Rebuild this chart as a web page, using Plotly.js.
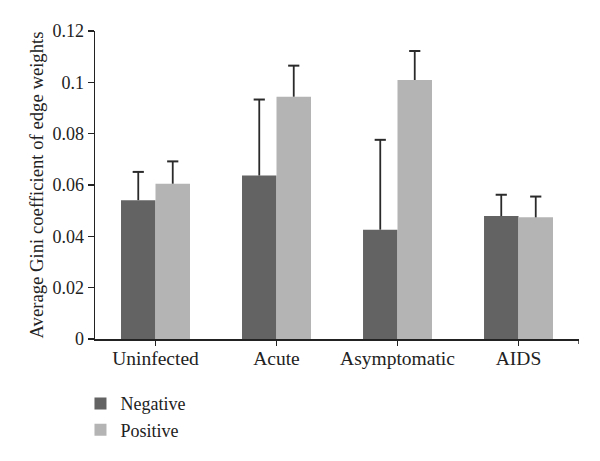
<!DOCTYPE html>
<html>
<head>
<meta charset="utf-8">
<script src="https://cdn.plot.ly/plotly-3.0.1.min.js"></script>
<style>html,body{margin:0;padding:0;background:#fff;}#chart{width:600px;height:461px;}</style>
</head>
<body>
<div id="chart"></div>
<script>
var categories = ["Uninfected", "Acute", "Asymptomatic", "AIDS"];
var negativeValues = [0.0541, 0.0637, 0.0426, 0.0479];
var negativeErrors = [0.0110, 0.0296, 0.0350, 0.0083];
var positiveValues = [0.0605, 0.0944, 0.1009, 0.0474];
var positiveErrors = [0.0087, 0.0121, 0.0113, 0.0081];
var yTickVals = [0, 0.02, 0.04, 0.06, 0.08, 0.1, 0.12];
var yTickText = ["0", "0.02", "0.04", "0.06", "0.08", "0.1", "0.12"];

var fontFam = "Liberation Serif, DejaVu Serif, serif";

function tops(v, e) { return v.map(function (d, i) { return d + e[i]; }); }

function errTrace(name, vals, errs) {
  return {
    type: "scatter", mode: "markers", name: name + " error", showlegend: false,
    x: categories, y: tops(vals, errs),
    offsetgroup: name, alignmentgroup: "g",
    marker: {symbol: "line-ew-open", size: 8, color: "#2a2a2a", line: {color: "#2a2a2a", width: 2}},
    error_y: {type: "data", symmetric: false, array: [0, 0, 0, 0], arrayminus: errs, width: 0, thickness: 1.8, color: "#2a2a2a"}
  };
}

var traces = [
  {type: "bar", name: "Negative", x: categories, y: negativeValues, offsetgroup: "Negative", alignmentgroup: "g",
   marker: {color: "#636363"}},
  {type: "bar", name: "Positive", x: categories, y: positiveValues, offsetgroup: "Positive", alignmentgroup: "g",
   marker: {color: "#b4b4b4"}},
  errTrace("Negative", negativeValues, negativeErrors),
  errTrace("Positive", positiveValues, positiveErrors)
];

var layout = {
  width: 600, height: 461,
  margin: {l: 95, r: 21, t: 31, b: 122},
  paper_bgcolor: "#fff", plot_bgcolor: "#fff",
  font: {family: fontFam, size: 18, color: "#222"},
  barmode: "group", bargap: 0.43, bargroupgap: 0,
  scattermode: "group", scattergap: 0.43,
  showlegend: true,
  legend: {x: -0.03, xanchor: "left", y: -0.15, yanchor: "top", orientation: "v",
           font: {family: fontFam, size: 18, color: "#222"}, bgcolor: "rgba(0,0,0,0)"},
  xaxis: {
    type: "category", range: [-0.5, 3.5],
    showline: true, linecolor: "#222", linewidth: 1.5,
    ticks: "outside", ticklen: 5, tickwidth: 1.5, tickcolor: "#222",
    ticklabelstandoff: -4,
    showgrid: false, zeroline: false,
    tickfont: {family: fontFam, size: 19.5, color: "#222"}
  },
  yaxis: {
    range: [0, 0.12], tickvals: yTickVals, ticktext: yTickText,
    showline: true, linecolor: "#222", linewidth: 1.5,
    ticks: "outside", ticklen: 6, tickwidth: 1.5, tickcolor: "#222",
    showgrid: false, zeroline: false,
    tickfont: {family: fontFam, size: 18, color: "#222"},
    title: {text: "Average Gini coefficient of edge weights", font: {family: fontFam, size: 18.7, color: "#222"}, standoff: 4}
  },
  shapes: [
    {type: "line", xref: "x", yref: "paper", x0: 3.5, x1: 3.5, y0: 0, y1: -0.016, line: {color: "#222", width: 1.5}}
  ]
};

Plotly.newPlot("chart", traces, layout, {displayModeBar: false, staticPlot: true});
</script>
</body>
</html>
